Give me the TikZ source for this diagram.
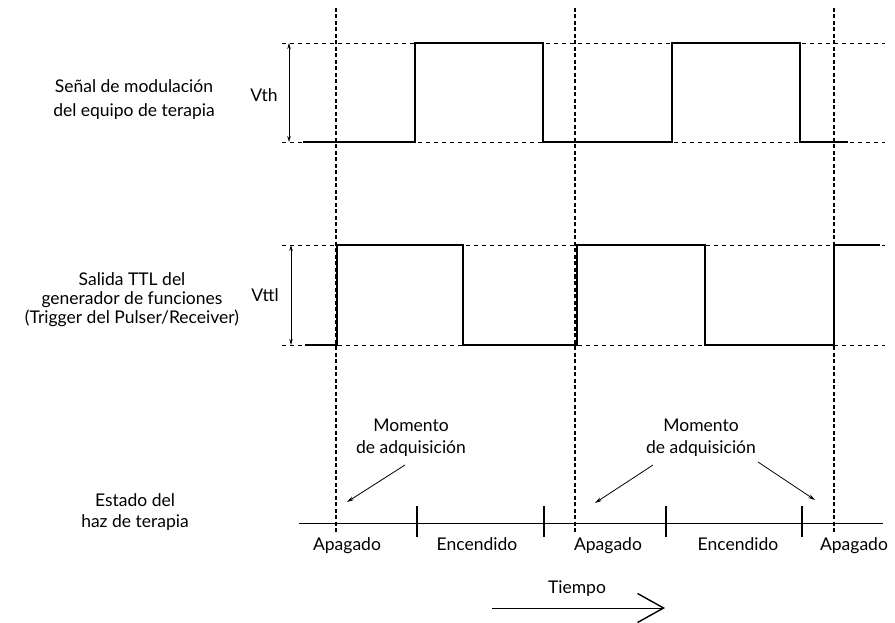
\documentclass[tikz,border=0pt]{standalone}
\usepackage{fontspec}
\setmainfont{Lato}
\usetikzlibrary{arrows.meta}
\begin{document}
\begin{tikzpicture}[x=1pt,y=-1pt,
  lbl/.style={font=\fontsize{17.5}{19}\selectfont, align=center, inner sep=0pt},
  one/.style={font=\fontsize{17.5}{19}\selectfont, inner sep=0pt, anchor=base},
  sig/.style={line width=1.6pt, line join=miter},
  guide/.style={line width=0.7pt, dash pattern=on 4pt off 4pt},
  marker/.style={line width=1.5pt, dash pattern=on 4pt off 2.5pt},
  dimarrow/.style={line width=0.9pt, {Stealth[length=6pt,width=3.5pt]}-{Stealth[length=6pt,width=3.5pt]}},
  ptr/.style={line width=0.8pt, -{Stealth[length=7pt,width=4pt]}},
  tick/.style={line width=1.2pt}]
\useasboundingbox (0,0) rectangle (895,623);

% guides
\draw[guide] (282,43) -- (885,43);
\draw[guide] (282,142) -- (885,142);
\draw[guide] (282,245) -- (885,245);
\draw[guide] (282,345) -- (885,345);

% markers
\foreach \x in {336,575,834} \draw[marker] (\x,8) -- (\x,532);

% waveform 1
\draw[sig] (303,142) -- (415,142) -- (415,43) -- (543,43) -- (543,142) -- (672,142) -- (672,43) -- (800,43) -- (800,142) -- (848,142);
% waveform 2
\draw[sig] (305,345) -- (337,345) -- (337,245) -- (463,245) -- (463,345) -- (577,345) -- (577,245) -- (705,245) -- (705,345) -- (834,345) -- (834,245) -- (880,245);

% dimension arrows
\coordinate (vthT) at (289,43); \coordinate (vthB) at (289,142);
\draw[dimarrow] (vthT) -- (vthB);
\node[one] (vth) at (264,102) {Vth};
\coordinate (vttlT) at (291,245); \coordinate (vttlB) at (291,345);
\draw[dimarrow] (vttlT) -- (vttlB);
\node[one] (vttl) at (265,301) {Vttl};

% left labels
\node[lbl, font=\fontsize{17.5}{24}\selectfont] (s1) at (134,100) {Señal de modulación\\del equipo de terapia};
\node[lbl] (s2) at (132,300) {Salida TTL del\\generador de funciones\\(Trigger del Pulser/Receiver)};
\node[lbl, font=\fontsize{17.5}{21}\selectfont] (s3) at (135,512) {Estado del\\haz de terapia};

% axis
\draw[line width=0.9pt] (299,523) -- (883,523);
\foreach \x in {417,544,666,802} \draw[tick] (\x,506) -- (\x,537);

\node[one] (a1) at (347,550) {Apagado};
\node[one] (e1) at (477,550) {Encendido};
\node[one] (a2) at (608,550) {Apagado};
\node[one] (e2) at (738,550) {Encendido};
\node[one] (a3) at (854,550) {Apagado};

% Momento labels
\node[lbl, font=\fontsize{17.5}{22}\selectfont] (m1) at (411,438) {Momento\\de adquisición};
\node[lbl, font=\fontsize{17.5}{22}\selectfont] (m2) at (701,438) {Momento\\de adquisición};
\coordinate (p1) at (347,502);
\coordinate (p2) at (595,503);
\coordinate (p3) at (815,500);
\draw[ptr] (405,465) -- (p1);
\draw[ptr] (653,465) -- (p2);
\draw[ptr] (758,462) -- (p3);

% time arrow
\node[one] (t) at (577,593) {Tiempo};
\coordinate (t0) at (492,608); \coordinate (t1) at (665,608);
\draw[line width=1pt, -{Straight Barb[length=26pt,width=29pt,line width=1.4pt]}] (t0) -- (t1);
\end{tikzpicture}
\end{document}
